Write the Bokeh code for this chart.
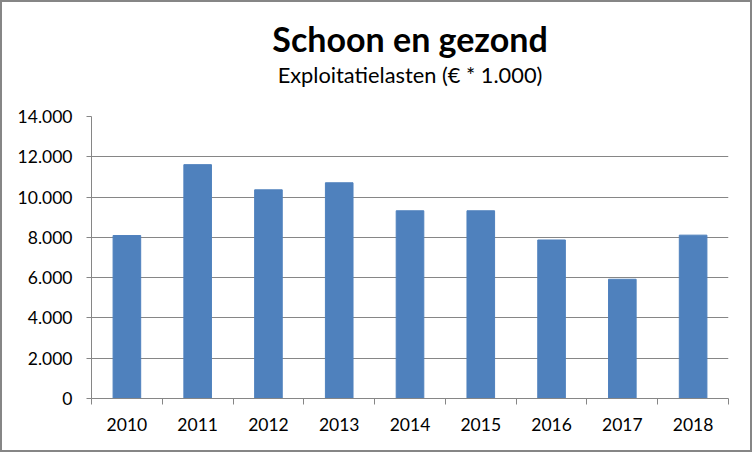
from bokeh.plotting import figure
from bokeh.models import ColumnDataSource, Range1d, FixedTicker, Title
from bokeh.layouts import column
from bokeh.embed import file_html
from bokeh.resources import INLINE

years = ["2010", "2011", "2012", "2013", "2014", "2015", "2016", "2017", "2018"]
values = [8090, 11610, 10360, 10710, 9320, 9320, 7870, 5920, 8110]
y_ticks = [0, 2000, 4000, 6000, 8000, 10000, 12000, 14000]
y_tick_labels = ["0", "2.000", "4.000", "6.000", "8.000", "10.000", "12.000", "14.000"]
title_text = "Schoon en gezond"
subtitle_text = "Exploitatielasten (€ * 1.000)"

FONT = "Lato"
GRAY = "#868686"

xs = list(range(1, len(years) + 1))
src = ColumnDataSource(data=dict(x=xs, top=values, year=years))

p = figure(width=748, height=448, output_backend="svg", toolbar_location=None,
           x_range=Range1d(0.5, len(years) + 0.5), y_range=Range1d(0, 14000),
           min_border_left=89, min_border_right=22, min_border_top=114, min_border_bottom=52)
p.outline_line_color = None
p.background_fill_color = "white"
p.border_fill_color = "white"

p.vbar(x="x", top="top", width=0.39, bottom=0, source=src, color="#4F81BD")

xa = p.xaxis[0]
xa.ticker = FixedTicker(ticks=xs, minor_ticks=[i + 0.5 for i in range(0, len(years) + 1)])
xa.major_label_overrides = {x: y for x, y in zip(xs, years)}
xa.major_tick_out = 0
xa.major_tick_in = 0
xa.minor_tick_out = 6
xa.minor_tick_in = 0
xa.minor_tick_line_color = GRAY
xa.axis_line_color = GRAY
xa.major_label_text_font = FONT
xa.major_label_text_font_size = "17.5px"
xa.major_label_text_color = "black"
xa.major_label_standoff = 13

ya = p.yaxis[0]
ya.ticker = FixedTicker(ticks=y_ticks, minor_ticks=[])
ya.major_label_overrides = {t: l for t, l in zip(y_ticks, y_tick_labels)}
ya.major_tick_out = 5
ya.major_tick_in = 0
ya.major_tick_line_color = GRAY
ya.axis_line_color = GRAY
ya.major_label_text_font = FONT
ya.major_label_text_font_size = "17.5px"
ya.major_label_text_color = "black"
ya.major_label_standoff = 14

p.xgrid.grid_line_color = None
p.ygrid.grid_line_color = GRAY
p.ygrid.ticker = FixedTicker(ticks=y_ticks)

# spacer between subtitle and plot area
spacer = Title(text=" ", align="center", text_font=FONT, text_font_size="10px",
               text_color="white", standoff=15)
p.add_layout(spacer, "above")
sub = Title(text=subtitle_text, align="center", text_font=FONT, text_font_size="21.8px",
            text_font_style="normal", text_color="black", standoff=0)
p.add_layout(sub, "above")
p.title = Title(text=title_text, align="center", text_font=FONT, text_font_size="34px",
                text_font_style="bold", text_color="black", standoff=0)

layout = column(p, styles={"border": "2px solid #868686"})
open("out.html", "w").write(file_html(layout, INLINE))
